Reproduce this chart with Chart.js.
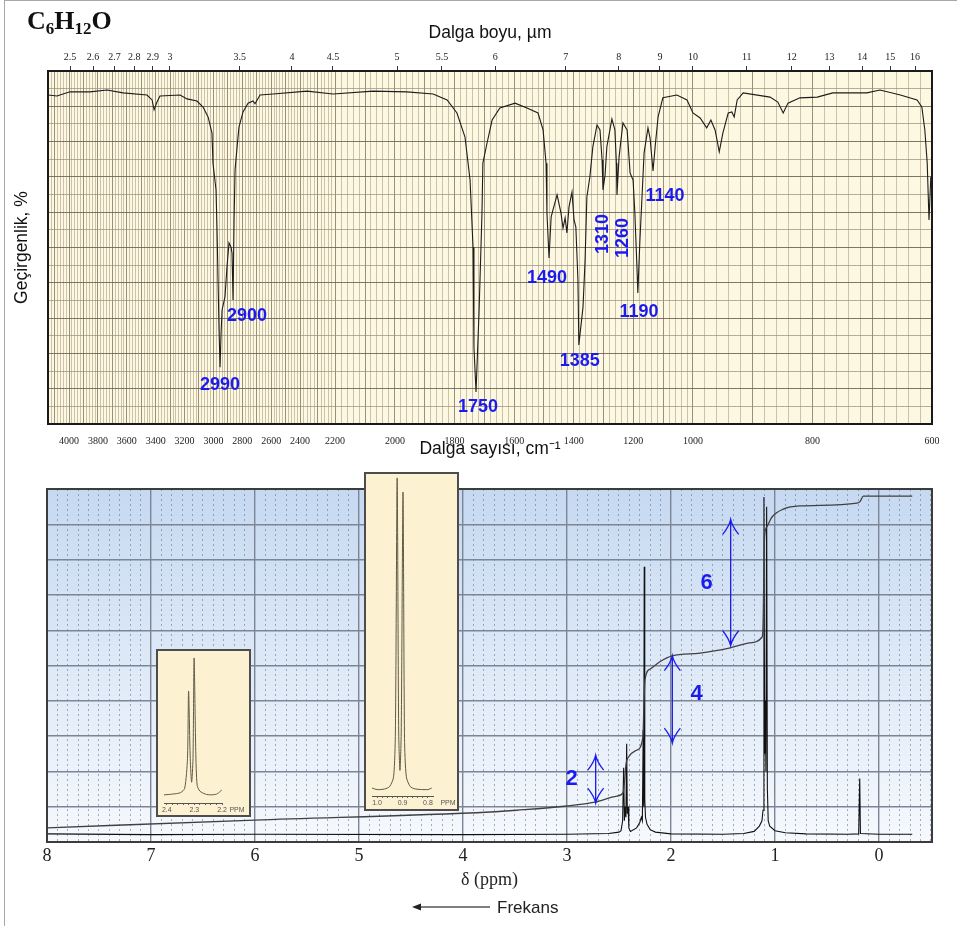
<!DOCTYPE html>
<html>
<head>
<meta charset="utf-8">
<script src="https://cdn.jsdelivr.net/npm/chart.js@4.4.1/dist/chart.umd.min.js"></script>
<style>
  html, body { margin: 0; padding: 0; background: #fff; }
  #page { position: relative; width: 957px; height: 926px; overflow: hidden; }
  #frame { position: absolute; left: 4px; top: 0; width: 953px; height: 926px; border-left: 1px solid #a8a8a8; border-top: 1px solid #a8a8a8; box-sizing: border-box; }
  canvas { position: absolute; }
  #formula { position: absolute; left: 27px; top: 8px; font: bold 26px/26px 'Liberation Serif', 'Times New Roman', serif; color: #111; white-space: nowrap; }
  #formula span { font-size: 17px; vertical-align: -5px; }
  .inset { position: absolute; border: 2px solid #4d4d4d; background: #fcf2d2; box-sizing: border-box; }
  .inset canvas { left: 0; top: 0; }
</style>
</head>
<body>
<div id="page">
  <div id="frame"></div>
  <canvas id="ir" width="957" height="465" style="left:0;top:0"></canvas>
  <canvas id="nmr" width="957" height="461" style="left:0;top:465px"></canvas>
  <div class="inset" style="left:156px;top:649px;width:95px;height:168px"><canvas id="inA" width="91" height="164"></canvas></div>
  <div class="inset" style="left:364px;top:472px;width:95px;height:339px"><canvas id="inB" width="91" height="335"></canvas></div>
  <div id="formula">C<span>6</span>H<span>12</span>O</div>
</div>
<script>
// ---- IR spectrum (wavenumber cm-1 / transmittance %) ----
const irWave = [4146, 4084, 3994, 3855, 3737, 3626, 3460, 3425, 3411, 3391, 3370, 3231, 3183, 3114, 3072, 3037,
  3010, 3003, 2982, 2975, 2968, 2961, 2954, 2947, 2940, 2920, 2906, 2892, 2878, 2871, 2864, 2857, 2850, 2836,
  2823, 2795, 2760, 2726, 2712, 2677, 2587, 2360, 2211, 2073, 1960, 1872, 1825, 1792, 1765, 1748, 1738, 1735,
  1728, 1718, 1708, 1705, 1691, 1674, 1648, 1597, 1557, 1520, 1503, 1493, 1490, 1483, 1476, 1470, 1456, 1443,
  1436, 1429, 1423, 1416, 1406, 1399, 1393, 1386, 1383, 1369, 1362, 1356, 1346, 1336, 1322, 1312, 1305, 1302,
  1295, 1289, 1272, 1262, 1257, 1255, 1248, 1235, 1221, 1211, 1201, 1195, 1188, 1185, 1178, 1171, 1164, 1151,
  1144, 1134, 1127, 1117, 1101, 1054, 1020, 1000, 988, 977, 970, 963, 956, 950, 941, 935, 931, 926, 916, 871,
  858, 849, 841, 821, 792, 766, 709, 687, 653, 625, 617, 612, 608, 605, 602, 600];
const irTrans = [93.2, 92.9, 94.1, 94.1, 94.6, 93.8, 93.2, 91.8, 89.0, 91.2, 92.9, 93.2, 92.1, 91.5, 89.8, 87.0,
  82.4, 73.9, 66.3, 55.0, 40.8, 26.6, 16.1, 25.8, 32.3, 36.0, 44.5, 51.3, 50.1, 48.4, 35.1, 57.8, 72.0, 78.5,
  84.1, 88.4, 90.9, 91.5, 90.7, 93.2, 93.5, 94.3, 93.5, 94.3, 94.1, 93.5, 91.8, 88.1, 81.3, 69.1, 50.1, 21.8,
  9.1, 31.4, 59.8, 73.9, 79.6, 86.1, 89.5, 90.9, 89.5, 88.1, 83.3, 73.9, 59.8, 47.0, 58.6, 60.6, 64.9, 59.8,
  55.5, 58.4, 54.1, 61.5, 65.7, 57.8, 55.8, 40.8, 22.4, 33.1, 46.5, 64.3, 70.0, 78.5, 84.7, 83.3, 74.8, 66.3,
  70.5, 78.5, 86.4, 83.3, 73.9, 64.9, 75.6, 85.3, 83.3, 71.1, 69.1, 59.8, 44.5, 37.1, 52.1, 64.3, 76.8, 83.9,
  81.0, 71.7, 78.5, 87.0, 92.4, 93.2, 91.8, 88.1, 86.7, 83.9, 86.1, 83.3, 77.1, 82.4, 88.1, 88.4, 87.0, 91.8, 93.8, 92.6,
  91.2, 88.1, 90.9, 92.4, 92.6, 93.8, 93.8, 94.6, 93.2, 91.8, 89.8, 83.3, 73.9, 57.8, 70.0, 66.0];
const irBottomTicks = [4000, 3800, 3600, 3400, 3200, 3000, 2800, 2600, 2400, 2200, 2000, 1800, 1600, 1400, 1200, 1000, 800, 600];
const irTopTicksUm = [2.5, 2.6, 2.7, 2.8, 2.9, 3, 3.5, 4, 4.5, 5, 5.5, 6, 7, 8, 9, 10, 11, 12, 13, 14, 15, 16];
const irPeakNames = ['2990', '2900', '1750', '1490', '1385', '1310', '1260', '1190', '1140'];

// ---- 1H NMR spectrum (ppm / relative height) ----
const nmrPpm = [8.0, 7.0, 6.0, 4.0, 3.0, 2.6, 2.5, 2.48, 2.465, 2.455, 2.448, 2.44, 2.433, 2.426, 2.42, 2.412, 2.405,
  2.39, 2.33, 2.30, 2.285, 2.275, 2.267, 2.262, 2.257, 2.252, 2.245, 2.23, 2.2, 2.15, 2.0, 1.5, 1.3, 1.2, 1.15,
  1.125, 1.115, 1.106, 1.099, 1.093, 1.087, 1.08, 1.073, 1.065, 1.05, 1.0, 0.9, 0.7, 0.3, 0.195, 0.185, 0.178, 0.0, -0.32];
const nmrSignal = [2.3, 2.1, 2.2, 2.1, 2.2, 2.4, 2.8, 3.2, 6, 21, 6, 10, 7, 27.8, 8, 10, 4,
  3, 4, 5.5, 7, 6, 31.7, 10, 78, 12, 7, 5, 3.5, 2.8, 2.3, 2.2, 2.4, 3, 4.5,
  6, 9, 97.7, 25, 40, 20, 95, 15, 6, 4.5, 3.2, 2.6, 2.3, 2.2, 2.3, 18, 2.4, 2.2, 2.2];
const intPpm = [8.0, 6.0, 3.74, 3.48, 3.0, 2.73, 2.52, 2.46, 2.43, 2.41, 2.33, 2.27, 2.26, 2.25, 2.20, 2.11, 1.99,
  1.72, 1.43, 1.24, 1.125, 1.115, 1.10, 1.08, 1.03, 0.92, 0.76, 0.21, 0.18, 0.15, -0.32];
const intValue = [4.0, 6.2, 8.5, 9.0, 10.2, 11.3, 13, 14, 22.4, 24, 26, 29.7, 39, 46, 49, 51, 52.7,
  53.5, 55, 56.4, 58, 61, 86.4, 89.2, 92, 94.3, 95.2, 96, 96.5, 98, 98];
const nmrTicks = [8, 7, 6, 5, 4, 3, 2, 1, 0];
const integralNames = ['2', '4', '6'];

// insets (expanded doublets)
const insetAPpm = [2.41, 2.38, 2.35, 2.335, 2.325, 2.321, 2.315, 2.31, 2.305, 2.301, 2.295, 2.29, 2.28, 2.26, 2.24, 2.22, 2.205, 2.2];
const insetASignal = [5.5, 6, 7, 10, 30, 75.7, 30, 14, 30, 98, 35, 12, 8, 6, 5.5, 6, 8, 9];
const insetATicks = [2.4, 2.3, 2.2];
const insetBPpm = [1.02, 1.0, 0.97, 0.95, 0.935, 0.928, 0.921, 0.915, 0.91, 0.905, 0.898, 0.892, 0.885, 0.87, 0.85, 0.8, 0.785];
const insetBSignal = [2.5, 2, 2.2, 3, 6, 20, 99.4, 20, 8, 20, 95, 18, 6, 3, 2.2, 2, 2.5];
const insetBTicks = [1.0, 0.9, 0.8];

const SANS = "'Liberation Sans', Arial, sans-serif";
const SERIF = "'Liberation Serif', 'Times New Roman', serif";
const BLUE = '#1b1bf0';

// IR paper: compressed above 2000 cm-1, expanded below (value -> fraction of width)
const irBreaks = [[4146, 0], [2400, 0.2851], [2200, 0.3247], [2000, 0.3925], [1000, 0.7296], [600, 1]];
const umBreaks = [[4146, 0], [4000, 0.0249], [3333, 0.138], [2500, 0.276], [2222, 0.3224], [2000, 0.3948],
  [1818, 0.4457], [1667, 0.5057], [1000, 0.7296], [625, 0.9808], [600, 1]];
const axisBreaks = { x: irBreaks, xg: irBreaks, x2: umBreaks };

class BrokenWaveScale extends Chart.LinearScale {
  static id = 'brokenWave';
  getPixelForValue(v) {
    if (v === null || v === undefined || isNaN(v)) return NaN;
    const b = axisBreaks[this.id];
    let i = 0;
    while (i < b.length - 2 && v < b[i + 1][0]) i++;
    const [v0, f0] = b[i], [v1, f1] = b[i + 1];
    return this.left + (f0 + (v - v0) / (v1 - v0) * (f1 - f0)) * this.width;
  }
  getValueForPixel(p) {
    const b = axisBreaks[this.id];
    const f = (p - this.left) / this.width;
    let i = 0;
    while (i < b.length - 2 && f > b[i + 1][1]) i++;
    const [v0, f0] = b[i], [v1, f1] = b[i + 1];
    return v0 + (f - f0) / (f1 - f0) * (v1 - v0);
  }
}
Chart.register(BrokenWaveScale);

const irGridTicks = [];
for (let w = 4140; w >= 600; w -= 20) irGridTicks.push({ value: w });

// label anchors in data units [wavenumber, %T, rotated]
const irPeakSpots = [[2954, 11.0], [2767, 30.6], [1721, 4.8], [1490, 41.4], [1380, 17.8],
  [1302, 53.8, true], [1235, 52.7, true], [1181, 31.7], [1094, 64.6]];

const irDecor = {
  id: 'irDecor',
  beforeDraw(chart) {
    const { ctx, chartArea: a } = chart;
    ctx.save();
    ctx.fillStyle = '#fdf8e1';
    ctx.fillRect(a.left, a.top, a.width, a.height);
    ctx.restore();
  },
  afterDraw(chart) {
    const { ctx, chartArea: a, scales } = chart;
    ctx.save();
    ctx.strokeStyle = '#1a1a1a';
    ctx.lineWidth = 2;
    ctx.strokeRect(a.left, a.top, a.width, a.height);
    ctx.fillStyle = BLUE;
    ctx.font = 'bold 18px ' + SANS;
    ctx.textAlign = 'center';
    ctx.textBaseline = 'middle';
    irPeakSpots.forEach(([w, t, rot], i) => {
      const x = scales.x.getPixelForValue(w);
      const y = scales.y.getPixelForValue(t);
      ctx.save();
      ctx.translate(x, y);
      if (rot) ctx.rotate(-Math.PI / 2);
      ctx.fillText(irPeakNames[i], 0, 0);
      ctx.restore();
    });
    ctx.restore();
  }
};

new Chart(document.getElementById('ir'), {
  type: 'line',
  data: {
    datasets: [{
      data: irWave.map((w, i) => ({ x: w, y: irTrans[i] })),
      borderColor: '#1c1c1c', borderWidth: 1.1, pointRadius: 0, tension: 0, fill: false
    }]
  },
  options: {
    responsive: false, animation: false, devicePixelRatio: 1, events: [],
    layout: { autoPadding: false, padding: { left: 0, right: 25, top: 0, bottom: 0 } },
    plugins: { legend: { display: false }, tooltip: { enabled: false } },
    scales: {
      x: {
        type: 'brokenWave', position: 'bottom', min: 600, max: 4146,
        afterBuildTicks: s => { s.ticks = irBottomTicks.map(v => ({ value: v })); },
        afterFit: s => { s.height = 41; s.paddingLeft = 0; s.paddingRight = 0; },
        ticks: { callback: v => String(v), autoSkip: false, maxRotation: 0, padding: 3, color: '#222', font: { family: SERIF, size: 10 } },
        grid: { display: false }, border: { display: false },
        title: { display: true, text: 'Dalga sayısı, cm⁻¹', color: '#111', font: { family: SANS, size: 17.5 }, padding: { top: 0, bottom: 5.5 } }
      },
      xg: {
        type: 'brokenWave', position: 'bottom', min: 600, max: 4146,
        afterBuildTicks: s => { s.ticks = irGridTicks.slice(); },
        afterFit: s => { s.height = 0; s.paddingLeft = 0; s.paddingRight = 0; },
        ticks: { display: false },
        grid: { drawTicks: false, lineWidth: 1, color: c => c.tick && c.tick.value % 100 === 0 ? 'rgba(120,108,85,0.75)' : 'rgba(165,150,120,0.55)' },
        border: { display: false }
      },
      x2: {
        type: 'brokenWave', position: 'top', min: 600, max: 4146,
        afterBuildTicks: s => { s.ticks = irTopTicksUm.map(u => ({ value: 10000 / u })); },
        afterFit: s => { s.height = 71; s.paddingLeft = 0; s.paddingRight = 0; },
        ticks: { callback: (v, i) => String(irTopTicksUm[i]), autoSkip: false, maxRotation: 0, padding: 3, color: '#222', font: { family: SERIF, size: 10 } },
        grid: { drawOnChartArea: false, drawTicks: true, tickLength: 5, color: '#333' },
        border: { display: false },
        title: { display: true, text: 'Dalga boyu, µm', color: '#111', font: { family: SANS, size: 17.5 }, padding: { top: 22.5, bottom: 0 } }
      },
      y: {
        position: 'left', min: 0, max: 100,
        afterBuildTicks: s => { const t = []; for (let v = 0; v <= 100; v += 5) t.push({ value: v }); s.ticks = t; },
        afterFit: s => { s.width = 48; s.paddingTop = 0; s.paddingBottom = 0; },
        ticks: { display: false },
        grid: { drawTicks: false, lineWidth: 1, color: c => c.tick && c.tick.value % 10 === 0 ? 'rgba(105,95,85,0.85)' : 'rgba(150,140,125,0.7)' },
        border: { display: false },
        title: { display: true, text: 'Geçirgenlik, %', color: '#111', font: { family: SANS, size: 17.5 }, padding: { top: 11.5, bottom: 0 } }
      }
    }
  },
  plugins: [irDecor]
});

// ---- NMR ----
const nmrMinor = [];
for (let k = -5; k <= 80; k++) if (k % 10 !== 0) nmrMinor.push({ value: k / 10 });

// integral arrows [ppm, top, bottom] and numbers [ppm, height]
const integralArrows = [[2.724, 24.6, 11], [1.987, 52.8, 28], [1.426, 91.4, 55.6]];
const integralSpots = [[2.955, 18], [1.753, 41.9], [1.657, 73.3]];

function vArrow(ctx, x, y1, y2) {
  ctx.beginPath();
  ctx.moveTo(x, y1); ctx.lineTo(x, y2);
  ctx.moveTo(x - 8, y1 + 15); ctx.quadraticCurveTo(x - 1.5, y1 + 7, x, y1); ctx.quadraticCurveTo(x + 1.5, y1 + 7, x + 8, y1 + 15);
  ctx.moveTo(x - 8, y2 - 15); ctx.quadraticCurveTo(x - 1.5, y2 - 7, x, y2); ctx.quadraticCurveTo(x + 1.5, y2 - 7, x + 8, y2 - 15);
  ctx.stroke();
}

const nmrDecor = {
  id: 'nmrDecor',
  beforeDraw(chart) {
    const { ctx, chartArea: a } = chart;
    const g = ctx.createLinearGradient(0, a.top, 0, a.bottom);
    g.addColorStop(0, '#c6d9f1');
    g.addColorStop(1, '#f6f9fd');
    ctx.save();
    ctx.fillStyle = g;
    ctx.fillRect(a.left, a.top, a.width, a.height);
    ctx.restore();
  },
  afterDraw(chart) {
    const { ctx, chartArea: a, scales } = chart;
    ctx.save();
    ctx.strokeStyle = '#3c3c3c';
    ctx.lineWidth = 2;
    ctx.strokeRect(a.left, a.top, a.width, a.height);

    ctx.strokeStyle = BLUE;
    ctx.lineWidth = 1.3;
    integralArrows.forEach(([p, t, b]) => {
      vArrow(ctx, scales.x.getPixelForValue(p), scales.y.getPixelForValue(t), scales.y.getPixelForValue(b));
    });
    ctx.fillStyle = BLUE;
    ctx.font = 'bold 22px ' + SANS;
    ctx.textAlign = 'center';
    ctx.textBaseline = 'middle';
    integralSpots.forEach(([p, v], i) => {
      ctx.fillText(integralNames[i], scales.x.getPixelForValue(p), scales.y.getPixelForValue(v));
    });

    // "Frekans" direction note under the axis
    ctx.strokeStyle = '#555';
    ctx.lineWidth = 1.5;
    ctx.beginPath(); ctx.moveTo(418, 442); ctx.lineTo(490, 442); ctx.stroke();
    ctx.fillStyle = '#222';
    ctx.beginPath(); ctx.moveTo(412, 442); ctx.lineTo(421, 438.5); ctx.lineTo(421, 445.5); ctx.closePath(); ctx.fill();
    ctx.font = '17px ' + SANS;
    ctx.textAlign = 'left';
    ctx.fillText('Frekans', 497, 443);
    ctx.restore();
  }
};

new Chart(document.getElementById('nmr'), {
  type: 'line',
  data: {
    datasets: [
      { data: intPpm.map((p, i) => ({ x: p, y: intValue[i] })), borderColor: '#404040', borderWidth: 1.3, pointRadius: 0, cubicInterpolationMode: 'monotone', fill: false },
      { data: nmrPpm.map((p, i) => ({ x: p, y: nmrSignal[i] })), borderColor: '#111', borderWidth: 1.1, pointRadius: 0, tension: 0, fill: false }
    ]
  },
  options: {
    responsive: false, animation: false, devicePixelRatio: 1, events: [],
    layout: { autoPadding: false, padding: { left: 47, right: 25, top: 24, bottom: 34 } },
    plugins: { legend: { display: false }, tooltip: { enabled: false } },
    scales: {
      x: {
        type: 'linear', reverse: true, min: -0.51, max: 8,
        afterBuildTicks: s => { s.ticks = nmrTicks.map(v => ({ value: v })); },
        afterFit: s => { s.height = 50; s.paddingLeft = 0; s.paddingRight = 0; },
        ticks: { callback: v => String(v), autoSkip: false, maxRotation: 0, padding: 3, color: '#222', font: { family: SERIF, size: 18 } },
        grid: { drawTicks: false, lineWidth: 1.4, color: '#7b8595' },
        border: { display: false },
        title: { display: true, text: 'δ (ppm)', color: '#222', font: { family: SERIF, size: 18 }, padding: { top: 0, bottom: 1.2 } }
      },
      xm: {
        type: 'linear', reverse: true, min: -0.51, max: 8, position: 'bottom',
        afterBuildTicks: s => { s.ticks = nmrMinor.slice(); },
        afterFit: s => { s.height = 0; s.paddingLeft = 0; s.paddingRight = 0; },
        ticks: { display: false },
        grid: { drawTicks: false, lineWidth: 1, color: 'rgba(95,110,135,0.55)' },
        border: { display: false, dash: [2, 3] }
      },
      y: {
        min: 0, max: 100,
        afterBuildTicks: s => { const t = []; for (let v = 0; v <= 100; v += 10) t.push({ value: v }); s.ticks = t; },
        afterFit: s => { s.width = 0; s.paddingTop = 0; s.paddingBottom = 0; },
        ticks: { display: false },
        grid: { drawTicks: false, lineWidth: 1.4, color: '#7b8595' },
        border: { display: false }
      }
    }
  },
  plugins: [nmrDecor]
});

// ---- expanded-peak insets ----
const ppmNote = {
  id: 'ppmNote',
  afterDraw(chart) {
    const { ctx, chartArea: a } = chart;
    ctx.save();
    ctx.fillStyle = '#555';
    ctx.font = '7px ' + SANS;
    ctx.textAlign = 'center';
    ctx.textBaseline = 'middle';
    ctx.fillText('PPM', a.right + 15, a.bottom + 7);
    ctx.restore();
  }
};

function insetChart(id, ppm, sig, min, max, labels, pad, axisH) {
  const ruler = [];
  for (let k = Math.round(labels[labels.length - 1] * 50); k <= Math.round(labels[0] * 50); k++) ruler.push({ value: k / 50 });
  return new Chart(document.getElementById(id), {
    type: 'line',
    data: { datasets: [{ data: ppm.map((p, i) => ({ x: p, y: sig[i] })), borderColor: '#5f5a48', borderWidth: 1, pointRadius: 0, tension: 0.25, fill: false }] },
    options: {
      responsive: false, animation: false, devicePixelRatio: 1, events: [],
      layout: { autoPadding: false, padding: pad },
      plugins: { legend: { display: false }, tooltip: { enabled: false } },
      scales: {
        x: {
          type: 'linear', reverse: true, min: min, max: max,
          afterBuildTicks: s => { s.ticks = ruler.slice(); },
          afterFit: s => { s.height = axisH; s.paddingLeft = 0; s.paddingRight = 0; },
          ticks: {
            callback: v => labels.some(t => Math.abs(t - v) < 1e-6) ? v.toFixed(1) : '',
            autoSkip: false, maxRotation: 0, padding: 1, color: '#555', font: { family: SANS, size: 7 }
          },
          grid: { drawOnChartArea: false, drawTicks: true, tickLength: 2, color: '#666' },
          border: { display: true, color: '#555', width: 1 }
        },
        y: { display: false, min: 0, max: 100 }
      }
    },
    plugins: [ppmNote]
  });
}

insetChart('inA', insetAPpm, insetASignal, 2.2, 2.41, insetATicks, { left: 6, right: 27, top: 4, bottom: 0 }, 12);
insetChart('inB', insetBPpm, insetBSignal, 0.78, 1.02, insetBTicks, { left: 6, right: 24, top: 2, bottom: 0 }, 13);
</script>
</body>
</html>
